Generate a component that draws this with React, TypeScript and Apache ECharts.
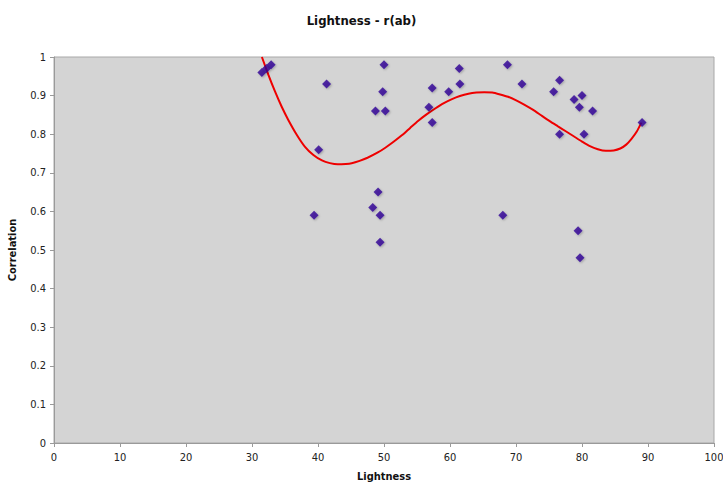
import React, { useEffect, useRef } from "react";
import * as echarts from "echarts";

const lightness = [31.5, 32.2, 32.9, 41.3, 40.1, 50.0, 49.8, 48.7, 50.2, 39.4, 49.1, 48.3, 49.4, 49.4,
  57.3, 56.8, 57.3, 59.8, 61.4, 61.5, 68.7, 70.9, 76.6, 75.7, 76.6, 78.8, 80.0, 79.6, 81.6, 80.3, 89.1,
  68.0, 79.4, 79.7];
const correlation = [0.96, 0.97, 0.98, 0.93, 0.76, 0.98, 0.91, 0.86, 0.86, 0.59, 0.65, 0.61, 0.59, 0.52,
  0.92, 0.87, 0.83, 0.91, 0.97, 0.93, 0.98, 0.93, 0.94, 0.91, 0.80, 0.89, 0.90, 0.87, 0.86, 0.80, 0.83,
  0.59, 0.55, 0.48];

// trend line
const trendX = [31.5, 32.5, 33.5, 34.5, 35.5, 36.8, 38.0, 39.3, 40.6, 41.8, 43.0, 44.2, 45.1, 46.3, 47.5,
  49.0, 50.2, 51.5, 52.7, 54.0, 55.2, 56.5, 57.7, 59.0, 60.3, 61.5, 62.8, 64.0, 65.2, 66.4, 67.6, 68.8,
  70.1, 71.3, 72.6, 73.8, 75.1, 76.3, 77.6, 78.8, 80.0, 81.2, 82.4, 83.6, 84.8, 85.8, 86.7, 87.5, 88.3, 89.0];
const trendY = [1.0, 0.953, 0.910, 0.871, 0.837, 0.798, 0.768, 0.746, 0.732, 0.725, 0.722, 0.723, 0.725,
  0.731, 0.739, 0.752, 0.765, 0.781, 0.797, 0.817, 0.835, 0.852, 0.866, 0.880, 0.891, 0.899, 0.905, 0.908,
  0.909, 0.908, 0.903, 0.897, 0.887, 0.876, 0.863, 0.849, 0.834, 0.821, 0.807, 0.794, 0.781, 0.769, 0.761,
  0.757, 0.758, 0.763, 0.773, 0.788, 0.807, 0.830];

const xTicks = [0, 10, 20, 30, 40, 50, 60, 70, 80, 90, 100];
const yTicks = [0, 0.1, 0.2, 0.3, 0.4, 0.5, 0.6, 0.7, 0.8, 0.9, 1];

const FONT = "'DejaVu Sans Condensed', 'DejaVu Sans', sans-serif";

export default function App() {
  const ref = useRef<HTMLDivElement>(null);
  useEffect(() => {
    if (!ref.current) return;
    const chart = echarts.init(ref.current, null, { renderer: "svg" });
    chart.setOption({
      animation: false,
      backgroundColor: "#ffffff",
      title: {
        text: "Lightness - r(ab)",
        left: "center",
        top: 9,
        textStyle: { fontFamily: FONT, fontSize: 13, fontWeight: "bold", color: "#111" },
      },
      grid: {
        left: 54, right: 9, top: 57, bottom: 44,
        outerBoundsMode: "none",
        containLabel: false,
        show: true, backgroundColor: "#d4d4d4", borderColor: "#a8a8a8", borderWidth: 1,
      },
      xAxis: {
        type: "value",
        min: xTicks[0], max: xTicks[xTicks.length - 1], interval: 10,
        name: "Lightness", nameLocation: "middle", nameGap: 28,
        nameTextStyle: { fontFamily: FONT, fontSize: 11, fontWeight: "bold", color: "#111" },
        axisLine: { show: true, lineStyle: { color: "#9a9a9a" } },
        axisTick: { show: true, length: 4, lineStyle: { color: "#9a9a9a" } },
        axisLabel: { fontFamily: FONT, fontSize: 11, color: "#222", margin: 9 },
        splitLine: { show: false },
      },
      yAxis: {
        type: "value",
        min: yTicks[0], max: yTicks[yTicks.length - 1], interval: 0.1,
        name: "Correlation", nameLocation: "middle", nameGap: 36, nameRotate: 90,
        nameTextStyle: { fontFamily: FONT, fontSize: 11, fontWeight: "bold", color: "#111" },
        axisLine: { show: true, lineStyle: { color: "#9a9a9a" } },
        axisTick: { show: true, length: 4, lineStyle: { color: "#9a9a9a" } },
        axisLabel: { fontFamily: FONT, fontSize: 11, color: "#222", margin: 8,
          formatter: (v: number) => String(Math.round(v * 10) / 10) },
        splitLine: { show: false },
      },
      series: [
        {
          type: "line",
          data: trendX.map((x, i) => [x, trendY[i]]),
          smooth: 0.2,
          showSymbol: false,
          symbol: "none",
          clip: true,
          lineStyle: { color: "#ee0000", width: 2 },
          z: 2,
        },
        {
          type: "scatter",
          data: lightness.map((x, i) => [x, correlation[i]]),
          symbol: "diamond",
          symbolSize: 9,
          itemStyle: { color: "#2f0096", shadowColor: "rgba(0,0,0,0.3)", shadowBlur: 2, shadowOffsetX: 1, shadowOffsetY: 1 },
          z: 3,
        },
      ],
    });
    return () => chart.dispose();
  }, []);
  return <div ref={ref} style={{ position: "absolute", left: 0, top: 0, width: 723, height: 487 }} />;
}
